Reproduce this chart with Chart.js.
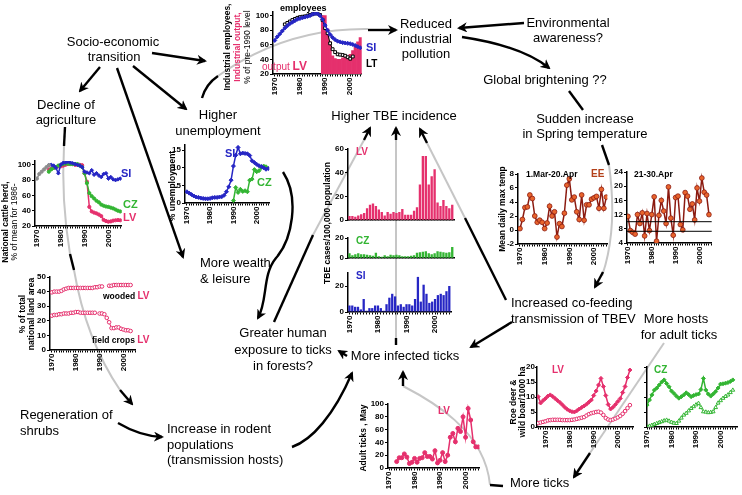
<!DOCTYPE html>
<html><head><meta charset="utf-8">
<script src="https://cdn.jsdelivr.net/npm/chart.js@4.4.1/dist/chart.umd.min.js"></script>
<style>
html,body{margin:0;padding:0;background:#fff;}
#stage{position:relative;width:742px;height:495px;overflow:hidden;background:#fff;}
#stage canvas{position:absolute;z-index:1;}
svg{position:absolute;left:0;top:0;}
#bg{z-index:0;} #fg{z-index:2;}
.t{font-family:'Liberation Sans',Arial,sans-serif;font-size:13px;fill:#000;}
.ax{font-family:'Liberation Sans',Arial,sans-serif;font-size:8.5px;font-weight:bold;fill:#000;}
.lb{font-family:'Liberation Sans',Arial,sans-serif;font-weight:bold;}
.g{stroke:#c6c6c6;stroke-width:2;fill:none;}
.k{stroke:#000;stroke-width:2.4;fill:none;}
.ka{stroke:#000;stroke-width:2.4;fill:none;marker-end:url(#ah);}
</style></head>
<body>
<div id="stage">
<svg id="bg" width="742" height="495">
  <path class="g" d="M218,76 Q285,28 368,29"/>
  <path class="g" d="M64,146 Q61,200 70,254"/>
  <path class="g" d="M74,270 Q86,340 120,390"/>
  <path class="g" d="M396,140 L396,340"/>
  <path class="g" d="M313,235 L364,140"/>
  <path class="g" d="M427,143 L465,218"/>
  <path class="g" d="M609,165 Q618,230 602,276"/>
  <path class="g" d="M664,343 L590,453"/>
  <path class="g" d="M490,485 C485,430 430,400 403,386"/>
</svg>
<svg id="fg" width="742" height="495">
  <defs><marker id="ah" viewBox="0 0 10 10" refX="8" refY="5" markerWidth="4.2" markerHeight="4.2" orient="auto" markerUnits="strokeWidth"><path d="M0,0 L10,5 L0,10 L3,5 z" fill="#000"/></marker></defs>
  <!-- arrows -->
  <path class="ka" d="M152,53 L205,61"/>
  <path class="ka" d="M100,67 L80,91"/>
  <path class="ka" d="M133,66 L186,109"/>
  <path class="ka" d="M117,68 L183,257"/>
  <path class="k" d="M202,98 Q206,84 218,76"/>
  <path class="ka" d="M368,30 L396,30"/>
  <path class="ka" d="M524,23 L459,28"/>
  <path class="ka" d="M462,37 Q522,46 549,68"/>
  <path class="k" d="M569,91 L583,110"/>
  <path class="k" d="M602,145 L609,165"/>
  <path class="ka" d="M603,272 L595,287"/>
  <path class="k" d="M465,218 L506,300"/>
  <path class="ka" d="M427,143 L420,129"/>
  <path class="k" d="M396,338 L396,345"/>
  <path class="ka" d="M396,140 L396,128"/>
  <path class="k" d="M274,322 L313,235"/>
  <path class="ka" d="M364,140 L370,128"/>
  <path class="ka" d="M512,322 L471,347"/>
  <path class="ka" d="M590,453 L574,477"/>
  <path class="k" d="M503,486 L490,485"/>
  <path class="ka" d="M403,386 L403,372"/>
  <path class="ka" d="M292,447 C312,440 334,415 352,373"/>
  <path class="ka" d="M118,423 Q140,436 162,437"/>
  <path class="k" d="M65,127 L64,146"/>
  <path class="k" d="M70,254 L74,270"/>
  <path class="ka" d="M120,390 L132,404"/>
  <path class="ka" d="M283,172 C300,198 292,240 276,258 C262,275 268,300 258,318"/>
  <path class="ka" d="M347,356 L339,351"/>
  <!-- main text -->
  <text class="t" text-anchor="middle" x="113" y="46">Socio-economic</text>
  <text class="t" text-anchor="middle" x="114" y="61">transition</text>
  <text class="t" text-anchor="middle" x="66" y="109">Decline of</text>
  <text class="t" text-anchor="middle" x="66" y="124">agriculture</text>
  <text class="t" text-anchor="middle" x="218" y="119">Higher</text>
  <text class="t" text-anchor="middle" x="218" y="135">unemployment</text>
  <text class="t" text-anchor="middle" x="426" y="28">Reduced</text>
  <text class="t" text-anchor="middle" x="426" y="43">industrial</text>
  <text class="t" text-anchor="middle" x="426" y="58">pollution</text>
  <text class="t" text-anchor="middle" x="568" y="27">Environmental</text>
  <text class="t" text-anchor="middle" x="568" y="42">awareness?</text>
  <text class="t" text-anchor="middle" x="545" y="84">Global brightening ??</text>
  <text class="t" text-anchor="middle" x="585" y="123">Sudden increase</text>
  <text class="t" text-anchor="middle" x="585" y="138">in Spring temperature</text>
  <text class="t" text-anchor="middle" x="394" y="120">Higher TBE incidence</text>
  <text class="t" x="200" y="267">More wealth</text>
  <text class="t" x="200" y="283">&amp; leisure</text>
  <text class="t" text-anchor="middle" x="283" y="337">Greater human</text>
  <text class="t" text-anchor="middle" x="283" y="354">exposure to ticks</text>
  <text class="t" text-anchor="middle" x="283" y="370">in forests?</text>
  <text class="t" text-anchor="middle" x="405" y="360">More infected ticks</text>
  <text class="t" x="511" y="307">Increased co-feeding</text>
  <text class="t" x="511" y="323">transmission of TBEV</text>
  <text class="t" text-anchor="middle" x="676" y="323">More hosts</text>
  <text class="t" text-anchor="middle" x="679" y="339">for adult ticks</text>
  <text class="t" x="20" y="419">Regeneration of</text>
  <text class="t" x="20" y="435">shrubs</text>
  <text class="t" x="167" y="433">Increase in rodent</text>
  <text class="t" x="167" y="449">populations</text>
  <text class="t" x="167" y="464">(transmission hosts)</text>
  <text class="t" x="510" y="487">More ticks</text>
  <!-- axis titles -->
  <text class="ax" text-anchor="middle" transform="translate(230,47) rotate(-90)">Industrial employees,</text>
  <text class="ax" text-anchor="middle" transform="translate(240,47) rotate(-90)" style="fill:#e5306d">Industrial output,</text>
  <text class="ax" text-anchor="middle" transform="translate(250,47) rotate(-90)" style="font-weight:normal">% of pre-1990 level</text>
  <text class="ax" text-anchor="middle" transform="translate(8,222) rotate(-90)">National cattle herd,</text>
  <text class="ax" text-anchor="middle" transform="translate(17,222) rotate(-90)" style="font-weight:normal">% of mean for 1986-</text>
  <text class="ax" text-anchor="middle" transform="translate(175,186) rotate(-90)">% unemployment</text>
  <text class="ax" text-anchor="middle" transform="translate(25,314) rotate(-90)">% of total</text>
  <text class="ax" text-anchor="middle" transform="translate(34,314) rotate(-90)">national land area</text>
  <text class="ax" text-anchor="middle" transform="translate(330,223) rotate(-90)">TBE cases/100,000 population</text>
  <text class="ax" text-anchor="middle" transform="translate(505,209) rotate(-90)">Mean daily max temp</text>
  <text class="ax" text-anchor="middle" transform="translate(516,402) rotate(-90)">Roe deer &amp;</text>
  <text class="ax" text-anchor="middle" transform="translate(525,402) rotate(-90)">wild boar/1000 ha</text>
  <text class="ax" text-anchor="middle" transform="translate(366,438) rotate(-90)">Adult ticks , May</text>
  <!-- series labels -->
  <text class="lb" x="280" y="11" font-size="9">employees</text>
  <text class="lb" x="366" y="51" font-size="11" fill="#2626c4">SI</text>
  <text class="lb" x="366" y="67" font-size="10">LT</text>
  <text class="lb" x="262" y="70" font-size="10" fill="#e5306d"><tspan font-weight="normal">output </tspan><tspan font-size="12">LV</tspan></text>
  <text class="lb" x="121" y="177" font-size="11" fill="#2626c4">SI</text>
  <text class="lb" x="123" y="208" font-size="11" fill="#33b533">CZ</text>
  <text class="lb" x="123" y="221" font-size="11" fill="#e5306d">LV</text>
  <text class="lb" x="225" y="157" font-size="11" fill="#2626c4">SI</text>
  <text class="lb" x="257" y="186" font-size="11" fill="#33b533">CZ</text>
  <text class="lb" x="103" y="299" font-size="8.5">wooded <tspan fill="#e5306d" font-size="10">LV</tspan></text>
  <text class="lb" x="92" y="343" font-size="8.5">field crops <tspan fill="#e5306d" font-size="10">LV</tspan></text>
  <text class="lb" x="356" y="155" font-size="10" fill="#e5306d">LV</text>
  <text class="lb" x="356" y="244" font-size="10" fill="#33b533">CZ</text>
  <text class="lb" x="356" y="279" font-size="10" fill="#2626c4">SI</text>
  <text class="lb" x="526" y="177" font-size="8.5">1.Mar-20.Apr</text>
  <text class="lb" x="591" y="177" font-size="10" fill="#b3401a">EE</text>
  <text class="lb" x="634" y="177" font-size="8.5">21-30.Apr</text>
  <text class="lb" x="552" y="373" font-size="10" fill="#e5306d">LV</text>
  <text class="lb" x="654" y="373" font-size="10" fill="#33b533">CZ</text>
  <text class="lb" x="438" y="414" font-size="10" fill="#e5306d">LV</text>
</svg>
</div>
<script>
// ---------------- data ----------------
const PINK = '#e5306d', BLUE = '#2626c4', GREEN = '#33b533', GREY = '#8e8e8e';

// industrial employees / output, % of pre-1990 level
const siEmpStart = 1970;
const siEmployees = [66,71,75,79,83,86,89,91,93,95,96,97,98,99,100,102,103,102.5,100,95,87,80,74,70,67,65,64,63,62.5,62,61.5,60.5,59,57.5,56];
const ltEmpStart = 1974;
const ltEmployees = [88,90,92,94,95.5,97,98,98.5,99,100,101,102,103,103,101,94,83,76,62,54,50,47,46.5,46,45,43,41,44];
const lvOutputStart = 1989;
const lvOutput = [100,100,82,64,45,41,40,40,42,44,44,47,52,58,64,70];

// cattle herd, % of mean for 1986-
const grCattleStart = 1970;
const grCattle = [82,88,91,94,97,99.5];
const siCattleStart = 1975;
const siCattle = [99.5,100,99,96,89,100,102.5,103,104,103,102,101,100,99,97,91,90,89,93,87,89,86,84,88,89,82,84,81,80,81,82];
const czCattleStart = 1975;
const czCattle = [91,94,96,97,99,100,101,101.7,101.5,101,101,101,101,99,97,89,76,63,59,56,53,51,48,46.5,45.5,45,44,43,41.5,40,39];
const lvCattleStart = 1975;
const lvCattle = [94,95,96,97,98,98,99,100,101,101.7,101,100,100,100,99.5,89,78,45,39,37.5,36.5,35,33,28,26.5,25.6,26,27,27.5,27.8,27.5];

// unemployment %
const siUnempStart = 1970;
const siUnemp = [3.2,2.8,2.4,2,1.7,1.6,1.4,1.3,1.2,1.2,1.3,1.5,1.6,1.6,1.7,1.8,2.2,3.2,4.6,6.5,10.5,13.6,15.8,14,14.2,14.1,14,13.5,12,11.5,11,10.6,10.4,10,9.6,9.8];
const czUnempStart = 1990;
const czUnemp = [0.7,4.4,3,3.9,3.3,3.5,3.2,6.5,6.8,9.5,8.9,9.2,10.1,10.5,10.3];

// land use LV, % of national land area
const landStart = 1970;
const lvWooded = [39.5,40,40,40,40.5,41.5,42,42.5,42.5,42.5,42.5,42.5,42.5,42.5,42.5,42.5,42.5,42.5,43,43,43.5,43.5,null,null,44,44,44.5,44.5,44.5,44.5,44.5,44.5,44.5,44.5];
const lvField = [23.5,24,24,24.5,24.5,25,25,25,25.5,25.5,26,26,25.5,25.5,25.5,25.5,25.5,25.5,25.5,null,25,25,24.5,22,19,15,15,15.5,15.5,14.5,14,13.5,13.5,13];

// TBE cases / 100,000
const tbeStart = 1970;
const lvTbe = [3.5,3.5,3,4,5,6,10,13,14,12,9,7,4,7,5.5,7,6,7,9.5,4.5,4.5,4.5,8,11,30,54,54,30,37,43,15,12,17,12,10,13];
const czTbe = [5,3,4,5,4,4,3.5,3,2.5,5.5,2,1.5,3,2,3.5,3,3.5,3,2,2,2,2.5,3,5.5,6,6.5,7,5,4,5,7,6.5,6,5.5,6,11];
const siTbe = [5,5,4,4,2,10,1,3,3,5,5,3,1,6,11,14,12,5,6,4,6,6,5,10,27,8,21,14,7,8,10,13,14,13,16,20];

// spring temperature EE
const tempStart = 1970;
const tempMarApr = [0.2,1.5,3.2,3.3,5,4.5,2,1.1,1.4,1.1,0.2,1,3.4,2,2.6,-1,0.9,0.5,2.4,6.4,7.3,4.3,4.7,2.6,1.5,5,1.4,3.6,3.6,4.4,4.6,4.8,3.1,5.8,3.1,4.7];
const tempLateApr = [11.5,7.5,7,6.5,12,9.5,12.5,6,12.3,7.5,12,17,4.5,11.8,16,13,9.5,19.8,11,6.2,16.8,17.2,9.2,7.7,18.2,17.2,13.5,15,10.5,19.5,15.8,22.3,18.3,17.5,12];
const lateAprLevels = [10, 7.3];

// roe deer & wild boar / 1000 ha
const lvRoeStart = 1967;
const lvRoe = [10.1,8,8.8,9.5,10.3,10.7,10.2,9.5,8.8,8.2,7.4,6.6,5.9,5.4,5.1,5,5.4,6,6.5,7,7.6,8.3,9,10.5,12,14,16.2,13.5,10.5,7.5,6,6.6,7.5,8.5,9.5,11.5,13.5,16.5,19];
const lvBoar = [1.3,1.5,1.7,1.9,2.2,2.3,2.4,2.4,2.4,2.4,2.3,2.3,2.3,2.3,2.4,2.5,2.7,2.9,3.1,3.3,3.8,4.3,4.6,4.8,5,5.1,4.8,4,3,2.5,2.3,2.5,2.8,3.2,3.7,4.4,5.3,6.3,7.3];
const czRoeStart = 1970;
const czRoe = [7.3,9,10.7,12.3,13,14,15,15.7,14.5,13.4,12,11.2,10.3,9.6,10.1,10.7,11.4,10.8,10.1,10.5,10.8,11,12.5,16.2,12.3,11,10.3,11,11.8,13,14.3,14.4,14.6,14.8,15.2,15.7];
const czBoar = [0,0.3,0.6,0.9,1.2,1.5,1.8,2.1,2.3,2,1.6,1.3,1.2,2,3,4,4.6,5.4,6.2,6.8,7.4,7.9,6.5,5.1,5,4.8,4.9,5.1,6.5,8,8.8,9.6,10.2,10.7,11.5,12.3];

// adult ticks, May (LV)
const ticksStart = 1973;
const lvTicks = [10,16,16,22,17,7,9,15,9,15,16,24,18,18,14,27,8,12,24,10,20,48,54,41,62,57,80,48,93,75,41,33,33];

// ---------------- chart helpers ----------------
Chart.defaults.font.family = "'Liberation Sans', Arial, sans-serif";
Chart.defaults.font.size = 8;
Chart.defaults.font.weight = 'bold';
Chart.defaults.color = '#000';
Chart.defaults.animation = false;
Chart.defaults.plugins.legend.display = false;
Chart.defaults.plugins.tooltip.enabled = false;

const pts = (start, vals) => vals.map((v, i) => ({ x: start + i, y: v }));

function lineDs(data, color, opt) {
    return Object.assign({
        type: 'line', data: data, borderColor: color, backgroundColor: color,
        borderWidth: 1.5, pointRadius: 1.8, pointBorderWidth: 1, pointBorderColor: color,
        tension: 0, spanGaps: false, order: 0
    }, opt || {});
}
function barDs(data, color, pct) {
    return { type: 'bar', data: data, backgroundColor: color, borderWidth: 0,
        barPercentage: pct, categoryPercentage: 1, grouped: false, order: 2 };
}

// c: plot box in page pixels (l,t,r,b) + axis ranges
function makeChart(c, datasets) {
    const yW = c.yW || 22, xH = c.xLabels === false ? 1 : 24, pad = 6;
    const cv = document.createElement('canvas');
    cv.width = c.r - c.l + yW + pad;
    cv.height = c.b - c.t + pad + xH;
    cv.style.left = (c.l - yW) + 'px';
    cv.style.top = (c.t - pad) + 'px';
    document.getElementById('stage').appendChild(cv);
    const years = [];
    for (let y = Math.ceil(c.xMin); y <= c.xMax; y++) years.push(y);
    return new Chart(cv, {
        type: 'line',
        data: { datasets: datasets },
        options: {
            responsive: false,
            layout: { padding: { top: pad, right: pad, left: 0, bottom: 0 } },
            scales: {
                x: {
                    type: 'linear', min: c.xMin, max: c.xMax, offset: false,
                    afterFit: s => { s.height = xH; },
                    afterBuildTicks: s => { s.ticks = years.map(v => ({ value: v })); },
                    ticks: { display: c.xLabels !== false, autoSkip: false, minRotation: 90, maxRotation: 90, padding: 1,
                        callback: v => (v % 10 === 0 ? String(v) : '') },
                    grid: { display: true, drawOnChartArea: false, offset: false, color: '#000',
                        tickLength: c.xLabels === false ? 0 : 2.5, lineWidth: 1 },
                    border: { color: '#000', width: 1.5 }
                },
                y: {
                    type: 'linear', min: c.yMin, max: c.yMax,
                    afterFit: s => { s.width = yW; },
                    afterBuildTicks: s => { s.ticks = c.yTicks.map(v => ({ value: v })); },
                    ticks: { display: c.yLabels !== false, padding: c.yPad === undefined ? 1 : c.yPad },
                    grid: { display: true, drawOnChartArea: false, color: '#000', tickLength: c.yTick || 3 },
                    border: { color: '#000', width: 1.5 }
                }
            }
        }
    });
}

// ---------------- charts ----------------
// industrial
makeChart({ l: 273, r: 365, t: 12.3, b: 75, xMin: 1969.3, xMax: 2004.6, yMin: 20, yMax: 105, yTicks: [20, 40, 60, 80, 100] }, [
    barDs(pts(lvOutputStart, lvOutput), PINK, 1),
    lineDs(pts(siEmpStart, siEmployees), BLUE, { pointStyle: 'rectRot', pointRadius: 2 }),
    lineDs(pts(ltEmpStart, ltEmployees), '#000', { borderWidth: 1, pointStyle: 'rect', pointRadius: 2, pointBackgroundColor: '#fff' })
]);

// cattle
makeChart({ l: 35, r: 125, t: 160.9, b: 226, xMin: 1969.2, xMax: 2005.6, yMin: 20, yMax: 105, yTicks: [20, 40, 60, 80, 100] }, [
    lineDs(pts(grCattleStart, grCattle), GREY, { pointRadius: 1.6 }),
    lineDs(pts(siCattleStart, siCattle), BLUE, { pointStyle: 'rectRot', pointRadius: 1.8 }),
    lineDs(pts(czCattleStart, czCattle), GREEN, { pointRadius: 1.6 }),
    lineDs(pts(lvCattleStart, lvCattle), PINK, { pointRadius: 1.6 })
]);

// unemployment
makeChart({ l: 185, r: 273, t: 144.7, b: 203, xMin: 1969.2, xMax: 2005.4, yMin: 0, yMax: 16.5, yTicks: [0, 5, 10, 15] }, [
    lineDs(pts(siUnempStart, siUnemp), BLUE, { pointStyle: 'rectRot', pointRadius: 2 }),
    lineDs(pts(czUnempStart, czUnemp), GREEN, { pointStyle: 'rectRot', pointRadius: 2 })
]);

// land use
makeChart({ l: 50, r: 140, t: 277, b: 350, xMin: 1969.2, xMax: 2005.2, yMin: 0, yMax: 50, yTicks: [0, 10, 20, 30, 40, 50] }, [
    lineDs(pts(landStart, lvWooded), PINK, { borderWidth: 1, pointRadius: 1.8, pointBackgroundColor: '#fff' }),
    lineDs(pts(landStart, lvField), PINK, { borderWidth: 1, pointRadius: 1.8, pointBackgroundColor: '#fff' })
]);

// TBE incidence, three panels
const tbeX = { l: 348, r: 454, xMin: 1969.5, xMax: 2005.6 };
makeChart(Object.assign({ t: 149, b: 225, yMin: 0, yMax: 60, yTicks: [0, 20, 40, 60], xLabels: false }, tbeX), [
    barDs(pts(tbeStart, lvTbe), PINK, 0.8)
]);
makeChart(Object.assign({ t: 238, b: 263, yMin: 0, yMax: 20, yTicks: [0, 20], xLabels: false }, tbeX), [
    barDs(pts(tbeStart, czTbe), GREEN, 0.8)
]);
makeChart(Object.assign({ t: 273, b: 312, yMin: 0, yMax: 30, yTicks: [0, 20] }, tbeX), [
    barDs(pts(tbeStart, siTbe), BLUE, 0.8)
]);

// spring temperature
const tempStyle = { borderColor: '#8b1a10', borderWidth: 1.5, pointRadius: 2.4, pointBackgroundColor: '#e8642c', pointBorderColor: '#8b1a10', pointBorderWidth: 0.8 };
makeChart({ l: 518, r: 611, t: 174, b: 244, xMin: 1969.2, xMax: 2005.4, yMin: -2, yMax: 8, yTicks: [-2, 0, 2, 4, 6, 8] }, [
    lineDs(pts(tempStart, tempMarApr), '#8b1a10', tempStyle)
]);
makeChart({ l: 627, r: 716, t: 172, b: 243, xMin: 1969.6, xMax: 2005.2, yMin: 4, yMax: 24, yTicks: [4, 8, 12, 16, 20, 24] },
    lateAprLevels.map(v => lineDs([{ x: 1969.6, y: v }, { x: 2005.2, y: v }], '#000', { borderWidth: 1, pointRadius: 0 }))
        .concat([lineDs(pts(tempStart, tempLateApr), '#8b1a10', tempStyle)])
);

// roe deer & wild boar
makeChart({ l: 537, r: 637, t: 367, b: 427, xMin: 1966.5, xMax: 2006.5, yMin: 0, yMax: 20, yTicks: [0, 5, 10, 15, 20], yPad: 0, yTick: 2 }, [
    lineDs(pts(lvRoeStart, lvRoe), PINK, { pointStyle: 'rectRot', pointRadius: 2 }),
    lineDs(pts(lvRoeStart, lvBoar), PINK, { borderWidth: 1, pointRadius: 1.8, pointBackgroundColor: '#fff' })
]);
makeChart({ l: 647, r: 740, t: 367, b: 427, xMin: 1970, xMax: 2006.8, yMin: 0, yMax: 20, yTicks: [0, 5, 10, 15, 20], yLabels: false, yW: 8 }, [
    lineDs(pts(czRoeStart, czRoe), GREEN, { pointStyle: 'rectRot', pointRadius: 2 }),
    lineDs(pts(czRoeStart, czBoar), GREEN, { borderWidth: 1, pointStyle: 'triangle', pointRadius: 2.2, pointBackgroundColor: '#fff' })
]);

// adult ticks
makeChart({ l: 388, r: 483, t: 404, b: 468, xMin: 1969.6, xMax: 2005.4, yMin: 0, yMax: 100, yTicks: [0, 20, 40, 60, 80, 100] }, [
    lineDs(pts(ticksStart, lvTicks), PINK, { pointRadius: 2 })
]);
</script>
</body></html>
